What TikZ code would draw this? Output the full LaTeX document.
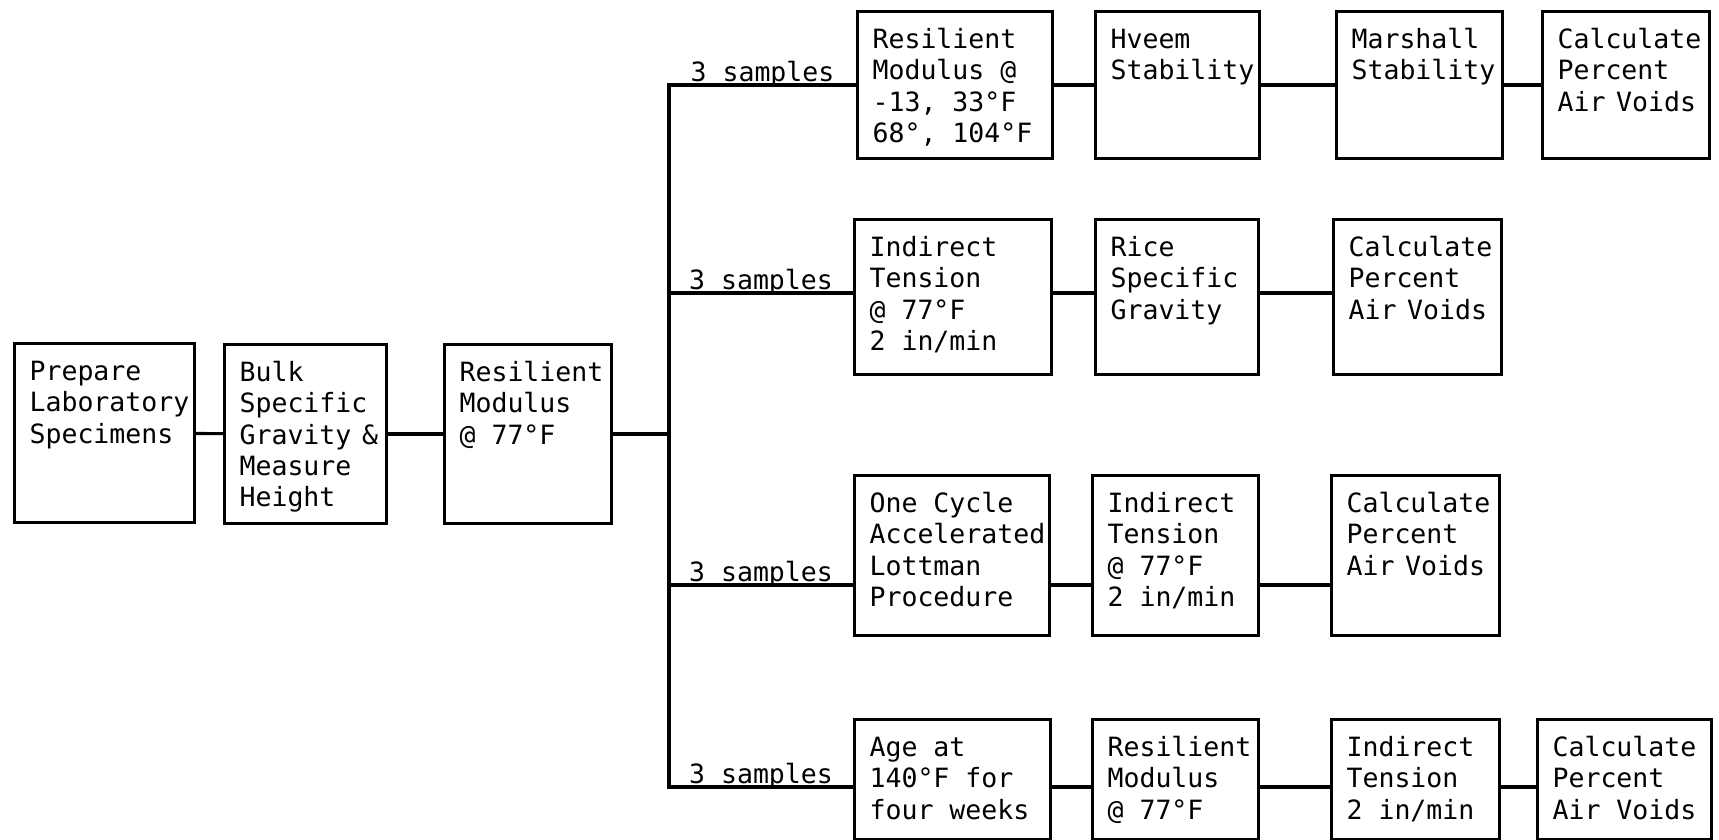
\documentclass[tikz,border=0pt]{standalone}
\usepackage{fontspec}
\newfontfamily\boxfont{DejaVu Sans Mono}
\newcommand\stagefont{\boxfont\fontsize{7.55pt}{8.9pt}\selectfont}
\hyphenpenalty=10000

\begin{document}
\begin{tikzpicture}[line width=.9pt,
  box/.style={draw, anchor=north west, align=flush left, inner xsep=1.5mm, inner ysep=1.7mm, text height=2mm, font=\stagefont},
  lbl/.style={anchor=base, yshift=.3mm, inner sep=0pt, font=\stagefont}]
\useasboundingbox (0,0) rectangle (17.19,8.40);

\node[box, text width=1.50cm, text depth=1.25cm] (prep) at (0.13,4.98) {Prepare\\Laboratory\\Specimens};
\node[box, text width=1.32cm, text depth=1.25cm] (bulk) at (2.23,4.97) {Bulk\\Specific\\Gravity~\&\\Measure\\Height};
\node[box, text width=1.37cm, text depth=1.25cm] (rm77) at (4.43,4.97) {Resilient\\Modulus\\@~77°F};

\coordinate (r1) at (6.69,7.55);
\coordinate (r2) at (6.69,5.47);
\coordinate (r3) at (6.69,2.55);
\coordinate (r4) at (6.69,0.53);

\node[box, text width=1.65cm, text depth=0.93cm] (a1) at (8.56,8.30) {Resilient\\Modulus~@\\-13,~33°F\\68°,~104°F};
\node[box, text width=1.34cm, text depth=0.93cm] (b1) at (10.94,8.30) {Hveem\\Stability};
\node[box, text width=1.36cm, text depth=0.93cm] (c1) at (13.35,8.30) {Marshall\\Stability};
\node[box, text width=1.37cm, text depth=0.93cm] (d1) at (15.41,8.30) {Calculate\\Percent\\Air~Voids};

\node[box, text width=1.67cm, text depth=1.01cm] (a2) at (8.53,6.22) {Indirect\\Tension\\@~77°F\\2~in/min};
\node[box, text width=1.33cm, text depth=1.01cm] (b2) at (10.94,6.22) {Rice\\Specific\\Gravity};
\node[box, text width=1.38cm, text depth=1.01cm] (c2) at (13.32,6.22) {Calculate\\Percent\\Air~Voids};

\node[box, text width=1.65cm, text depth=1.06cm] (a3) at (8.53,3.66) {One~Cycle\\Accelerated\\Lottman\\Procedure};
\node[box, text width=1.36cm, text depth=1.06cm] (b3) at (10.91,3.66) {Indirect\\Tension\\@~77°F\\2~in/min};
\node[box, text width=1.38cm, text depth=1.06cm] (c3) at (13.30,3.66) {Calculate\\Percent\\Air~Voids};

\node[box, text width=1.66cm, text depth=0.66cm] (a4) at (8.53,1.22) {Age~at\\140°F~for\\four~weeks};
\node[box, text width=1.36cm, text depth=0.66cm] (b4) at (10.91,1.22) {Resilient\\Modulus\\@~77°F};
\node[box, text width=1.38cm, text depth=0.66cm] (c4) at (13.30,1.22) {Indirect\\Tension\\2~in/min};
\node[box, text width=1.44cm, text depth=0.66cm] (d4) at (15.36,1.22) {Calculate\\Percent\\Air~Voids};

\draw (prep) -- (bulk);
\draw (bulk) -- (rm77);
\draw (rm77.east) -- (rm77.east -| r1);

\draw (a1.west |- r1) -- node[lbl] {3 samples} (r1) -- (r4) -- node[lbl] {3 samples} (a4.west |- r4);
\draw (r2) -- node[lbl] {3 samples} (a2.west |- r2);
\draw (r3) -- node[lbl] {3 samples} (a3.west |- r3);

\draw (a1.east |- r1) -- (b1.west |- r1);
\draw (b1.east |- r1) -- (c1.west |- r1);
\draw (c1.east |- r1) -- (d1.west |- r1);
\draw (a2.east |- r2) -- (b2.west |- r2);
\draw (b2.east |- r2) -- (c2.west |- r2);
\draw (a3.east |- r3) -- (b3.west |- r3);
\draw (b3.east |- r3) -- (c3.west |- r3);
\draw (a4.east |- r4) -- (b4.west |- r4);
\draw (b4.east |- r4) -- (c4.west |- r4);
\draw (c4.east |- r4) -- (d4.west |- r4);
\end{tikzpicture}
\end{document}
